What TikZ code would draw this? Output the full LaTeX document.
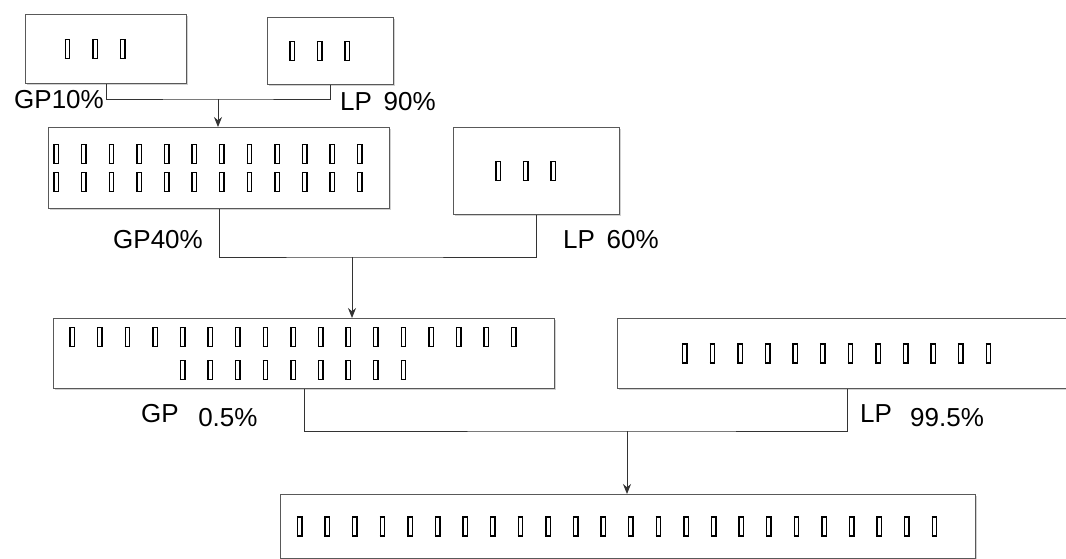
\documentclass[tikz,border=0pt]{standalone}
\usepackage{fontspec}
\usetikzlibrary{arrows.meta,shadows}
\setmainfont{Liberation Sans}
\setlength{\fboxsep}{0pt}
\setlength{\fboxrule}{1.4pt}
\newcommand{\tofu}{\makebox[27.6pt][l]{\fbox{\rule{0pt}{17.4pt}\hspace{3pt}}}}
\newcommand{\tofus}[1]{\foreach\k in {1,...,#1}{\tofu}}

\begin{document}
\begin{tikzpicture}[x=1pt,y=-1pt,
  box/.style={draw=black!65,line width=1.1pt,fill=white,anchor=north west,inner sep=0pt,align=center,
    font=\fontsize{20}{28}\selectfont,
    drop shadow={shadow xshift=1.5pt,shadow yshift=-1.5pt,fill=black!18,opacity=1}},
  pct/.style={font=\fontsize{26}{30}\selectfont,inner sep=0pt},
  link/.style={draw=black!80,line width=1pt},
  arr/.style={link,-{Stealth[length=10pt,width=8pt]}}]
      \useasboundingbox (0,0) rectangle (1066,558);
      \clip (0,0) rectangle (1066,558);
      \node[box,minimum width=161pt,minimum height=69pt] (gpbox1) at (25,14) {\tofus{3}};
      \node[box,minimum width=126pt,minimum height=67pt] (lpbox1) at (267,17) {\tofus{3}};
      \node[box,minimum width=341pt,minimum height=81pt] (mixbox1) at (48,127) {\tofus{12}\\\tofus{12}};
      \node[box,minimum width=166pt,minimum height=87pt] (lpbox2) at (453,127) {\tofus{3}};
      \node[box,minimum width=501pt,minimum height=70pt] (mixbox2) at (53,318) {\tofus{17}\\[5pt]\tofus{9}};
      \node[box,minimum width=460pt,minimum height=70pt] (lpbox3) at (617,318) {\tofus{12}};
      \node[box,minimum width=695pt,minimum height=64pt] (finalbox) at (280,494) {\tofus{24}};
      \node[pct,anchor=base east] (gp1) at (104,108) {GP10\%};
      \node[pct,anchor=base west] (lp1) at (340,110) {LP\hspace{0.45em}90\%};
      \node[pct,anchor=base east] (gp2) at (203,248) {GP40\%};
      \node[pct,anchor=base west] (lp2) at (563,248) {LP\hspace{0.45em}60\%};
      \node[pct,anchor=base west] (gp3) at (141,422) {GP\hspace{0.75em}\raisebox{-4pt}{0.5\%}};
      \node[pct,anchor=base west] (lp3) at (860,422) {LP\hspace{0.7em}\raisebox{-4pt}{99.5\%}};
      \coordinate (j1) at (218,99);
      \coordinate (j2) at (352,257);
      \coordinate (j3) at (627,431);
      \draw[link](gpbox1.south) |- (j1) -| (lpbox1.south);
      \draw[arr](j1)--(j1 |- mixbox1.north);
      \draw[link](mixbox1.south) |- (j2) -| (lpbox2.south);
      \draw[arr](j2)--(j2 |- mixbox2.north);
      \draw[link](mixbox2.south) |- (j3) -| (lpbox3.south);
      \draw[arr](j3)--(j3 |- finalbox.north);
    \end{tikzpicture}
\end{document}
